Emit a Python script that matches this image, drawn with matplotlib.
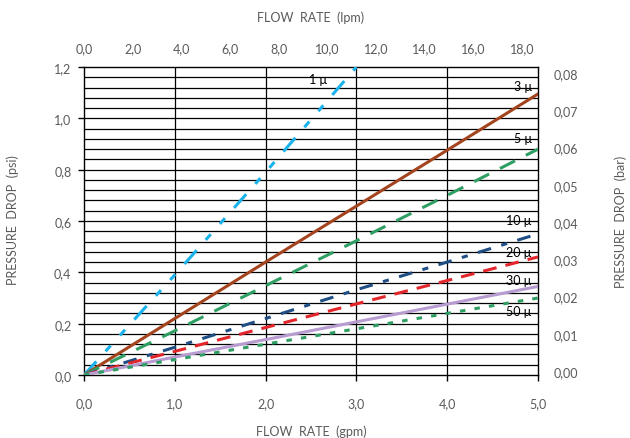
import matplotlib
matplotlib.use("Agg")
import matplotlib.pyplot as plt
import matplotlib.transforms as mtransforms

plt.rcParams['font.family'] = ['Lato', 'DejaVu Sans']

# Flow rate (gpm) and pressure drop (psi) for each filter rating
flow_1u = [0.0, 1.0, 2.0, 3.0]
drop_1u = [0.0, 0.39, 0.79, 1.2]

flow_gpm = [0.0, 1.0, 2.0, 3.0, 4.0, 5.0]
drop_3u = [0.0, 0.22, 0.44, 0.658, 0.876, 1.095]
drop_5u = [0.0, 0.172, 0.348, 0.523, 0.70, 0.88]
drop_10u = [0.0, 0.108, 0.22, 0.332, 0.44, 0.55]
drop_20u = [0.0, 0.092, 0.185, 0.277, 0.368, 0.46]
drop_30u = [0.0, 0.07, 0.138, 0.207, 0.276, 0.345]
drop_50u = [0.0, 0.06, 0.12, 0.18, 0.24, 0.30]

ratings = ["1 μ", "3 μ", "5 μ", "10 μ", "20 μ", "30 μ", "50 μ"]

gpm_ticks = [0, 1, 2, 3, 4, 5]
psi_ticks = [0.0, 0.2, 0.4, 0.6, 0.8, 1.0, 1.2]
lpm_ticks = [0, 2, 4, 6, 8, 10, 12, 14, 16, 18]
bar_ticks = [0.00, 0.01, 0.02, 0.03, 0.04, 0.05, 0.06, 0.07, 0.08]

PSI_PER_BAR = 14.5038
LPM_AXIS_MAX = 18.66

def comma(v, nd):
    return f"{v:.{nd}f}".replace(".", ",")

W, H = 630, 439
fig = plt.figure(figsize=(W / 100, H / 100), dpi=100)
ax = fig.add_axes([84 / W, 1 - 376 / H, (538 - 84) / W, (376 - 68) / H])

grey = "#5a5a5a"

# horizontal grid every 0.04 psi, vertical grid every gpm
for k in range(1, 30):
    ax.axhline(k * 0.04, color="black", lw=0.9, zorder=1)
for g in gpm_ticks[1:-1]:
    ax.axvline(g, color="black", lw=0.9, zorder=1)

lw = 2.2
ax.plot(flow_1u, drop_1u, color="#1ab2ea", lw=lw, dashes=(6, 4.5, 2.5, 4.5, 2.5, 4.5), zorder=3)
ax.plot(flow_gpm, drop_3u, color="#a3441f", lw=lw, zorder=3)
ax.plot(flow_gpm, drop_5u, color="#2e9e63", lw=lw, dashes=(5.5, 4), zorder=3)
ax.plot(flow_gpm, drop_10u, color="#1f4e85", lw=lw, dashes=(4.5, 3.5, 2, 3.5), zorder=3)
ax.plot(flow_gpm, drop_20u, color="#e3262b", lw=lw, dashes=(4.5, 3), zorder=3)
ax.plot(flow_gpm, drop_30u, color="#b79bd1", lw=lw, zorder=3)
ax.plot(flow_gpm, drop_50u, color="#2e9e63", lw=lw, dashes=(1.8, 3), zorder=3)

ax.set_xlim(0, 5)
ax.set_ylim(0, 1.2)
ax.set_xticks(gpm_ticks)
ax.set_xticklabels([comma(v, 1) for v in gpm_ticks])
ax.set_yticks(psi_ticks)
ax.set_yticklabels([comma(v, 1) for v in psi_ticks])
ax.tick_params(axis="x", direction="out", length=4, width=1, pad=12, labelsize=9, labelcolor=grey)
ax.tick_params(axis="y", direction="out", length=4, width=1, pad=5, labelsize=9, labelcolor=grey)
for s in ax.spines.values():
    s.set_linewidth(1.0)
    s.set_color("black")

# curve labels
label_pos = [(2.58, 1.153, "center"), (4.93, 1.126, "right"), (4.93, 0.923, "right"),
             (4.93, 0.604, "right"), (4.93, 0.478, "right"), (4.93, 0.37, "right"),
             (4.93, 0.25, "right")]
for name, (x, y, ha) in zip(ratings, label_pos):
    ax.text(x, y, name, ha=ha, va="center", fontsize=9, color="black", zorder=4)

# secondary axis: flow rate in lpm on top
axt = ax.twiny()
axt.set_xlim(0, LPM_AXIS_MAX)
axt.set_xticks(lpm_ticks)
axt.set_xticklabels([comma(v, 1) for v in lpm_ticks])
axt.tick_params(axis="x", length=0, pad=9, labelsize=9, labelcolor=grey)

# secondary axis: pressure drop in bar on the right
axr = ax.twinx()
axr.set_ylim(0, 1.2 / PSI_PER_BAR)
axr.set_yticks(bar_ticks)
axr.set_yticklabels([comma(v, 2) for v in bar_ticks])
axr.tick_params(axis="y", length=0, pad=11, labelsize=9, labelcolor=grey)
shift = mtransforms.ScaledTranslation(0, 4 / 100, fig.dpi_scale_trans)
for lab in axr.get_yticklabels():
    lab.set_transform(lab.get_transform() + shift)

for a in (axt, axr):
    for s in a.spines.values():
        s.set_visible(False)

fig.text(311 / W, 1 - 18 / H, "FLOW  RATE  (lpm)", ha="center", va="center", fontsize=9, color=grey)
fig.text(311 / W, 1 - 432 / H, "FLOW  RATE  (gpm)", ha="center", va="center", fontsize=9, color=grey)
fig.text(13 / W, 1 - 220 / H, "PRESSURE  DROP  (psi)", ha="center", va="center",
         rotation=90, fontsize=9, color=grey)
fig.text(621 / W, 1 - 222 / H, "PRESSURE  DROP  (bar)", ha="center", va="center",
         rotation=90, fontsize=9, color=grey)

fig.savefig("out.png", dpi=100, facecolor="white")
